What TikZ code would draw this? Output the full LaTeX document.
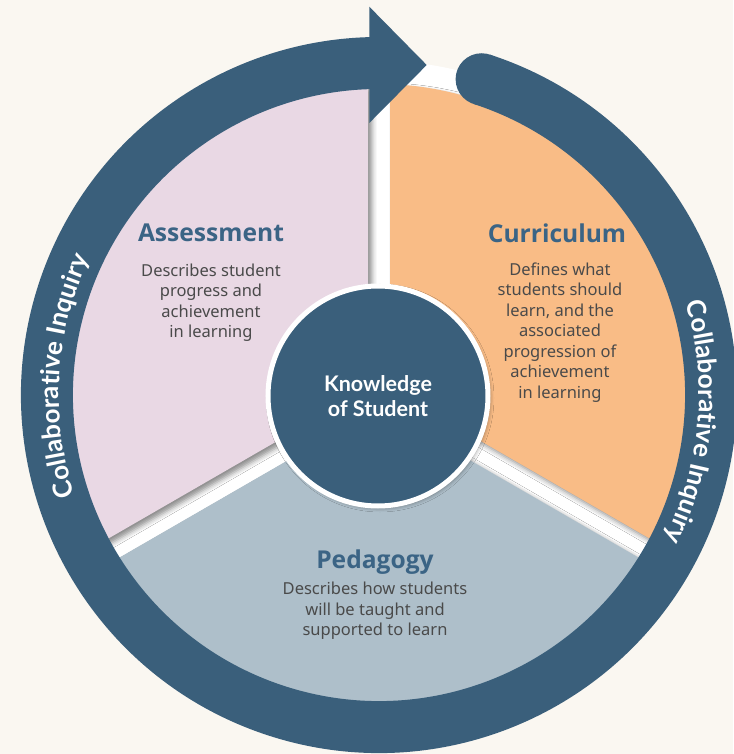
\documentclass[tikz,border=0pt]{standalone}
\usepackage{fontspec}
\setmainfont{Noto Sans}
\newfontfamily\headfont{Open Sans}
\newfontfamily\hubfont{Lato}
\newfontfamily\ringfont{Lato}
\usetikzlibrary{shadows.blur,decorations.text}

\definecolor{paper}{HTML}{FAF7F1}
\definecolor{ringblue}{HTML}{3A5F7B}
\definecolor{headblue}{HTML}{3B6485}
\definecolor{bodygray}{HTML}{4A4A4A}
\definecolor{assesspink}{HTML}{E9D8E4}
\definecolor{currorange}{HTML}{F9BC86}
\definecolor{pedblue}{HTML}{AEBFCA}

\begin{document}
\begin{tikzpicture}[x=1pt,y=1pt,
  sectorshade/.style={blur shadow={shadow xshift=4pt, shadow yshift=-4pt,
      shadow blur radius=5pt, shadow opacity=45}},
  heading/.style={font=\headfont\fontsize{24.6}{28}\selectfont\bfseries, text=headblue},
  body/.style={font=\fontsize{16.5}{20.5}\selectfont, text=bodygray, align=center},
  hub/.style={circle, minimum size=220pt, fill=ringblue, draw=white, line width=5pt,
      blur shadow={shadow xshift=2pt, shadow yshift=-2pt, shadow blur radius=4pt, shadow opacity=40},
      font=\hubfont\fontsize{21.5}{25}\selectfont\bfseries, text=white, align=center},
  ringtext/.style={decorate, decoration={text along path, text align=center,
      text={|\ringfont\fontsize{26}{26}\selectfont\bfseries\color{white}|Collaborative Inquiry}}}
]
% page and white disc
\fill[paper] (-379,-359) rectangle (354,395);
\useasboundingbox (-379,-359) rectangle (354,395);
\fill[white] (0,0) circle (334);

% three sectors separated by white gaps
\fill[sectorshade, pedblue] (270:12.7) -- (212.03:311)
  arc[start angle=212.03, end angle=327.97, radius=311] -- cycle;
\fill[sectorshade, currorange] (30:12.7) -- (-27.97:311)
  arc[start angle=-27.97, end angle=87.97, radius=311] -- cycle;
\fill[sectorshade, assesspink] (150:12.7) -- (92.03:311)
  arc[start angle=92.03, end angle=207.97, radius=311] -- cycle;

% circular arrow
\draw[ringblue, line width=52pt] (72:332)
  arc[start angle=72, end angle=-269, radius=332];
\fill[ringblue] (72:332) circle (26);
\fill[ringblue] (-9.7,388.3) -- (47.7,330) -- (-9.7,272) -- cycle;

% labels along the ring
\path[ringtext] (206.5:320) arc[start angle=206.5, end angle=146.5, radius=320];
\path[ringtext] (25:320) arc[start angle=25, end angle=-35, radius=320];

% centre
\node[hub] (hub) at (-1,-1) {Knowledge\\of Student};

% sector texts
\node[heading] (asshead) at (-168,162) {Assessment};
\node[body] (assbody) at (-168,92.5) {Describes student\\progress and\\achievement\\in learning};
\node[heading] (curhead) at (178,162) {Curriculum};
\node[body] (curbody) at (181,62.5) {Defines what\\students should\\learn, and the\\associated\\progression of\\achievement\\in learning};
\node[heading] (pedhead) at (-4,-167) {Pedagogy};
\node[body] (pedbody) at (-4,-216) {Describes how students\\will be taught and\\supported to learn};
\end{tikzpicture}
\end{document}
